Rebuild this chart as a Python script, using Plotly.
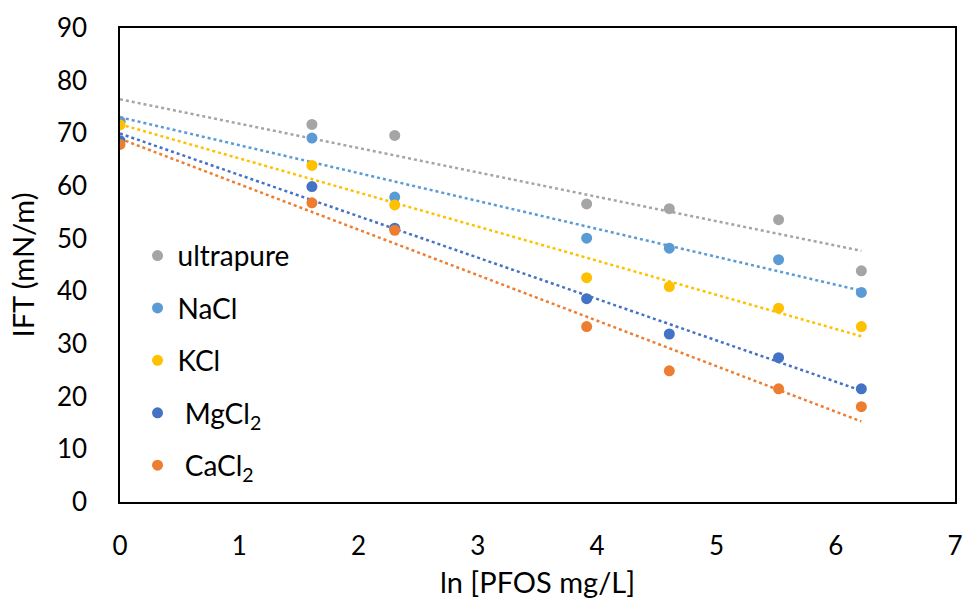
import numpy as np
import plotly.graph_objects as go

x_vals = [0.0, 1.609, 2.303, 3.912, 4.605, 5.521, 6.215]

series_names = ["ultrapure", "NaCl", "KCl", " MgCl<sub>2</sub>", " CaCl<sub>2</sub>"]
ultrapure = [72.3, 71.7, 69.6, 56.6, 55.7, 53.6, 43.9]
nacl = [72.2, 69.1, 57.9, 50.1, 48.2, 46.0, 39.8]
kcl = [71.6, 63.9, 56.4, 42.6, 40.9, 36.8, 33.3]
mgcl2 = [68.6, 59.9, 52.0, 38.6, 31.9, 27.4, 21.5]
cacl2 = [67.9, 56.8, 51.6, 33.3, 24.9, 21.5, 18.1]
colors = ["#A5A5A5", "#5B9BD5", "#FFC000", "#4472C4", "#ED7D31"]

x_ticks = [0, 1, 2, 3, 4, 5, 6, 7]
y_ticks = [0, 10, 20, 30, 40, 50, 60, 70, 80, 90]

FONT = "Lato"
fig = go.Figure()
all_series = [ultrapure, nacl, kcl, mgcl2, cacl2]
for i, (name, ys, c) in enumerate(zip(series_names, all_series, colors)):
    slope, intercept = np.polyfit(x_vals, ys, 1)
    xt = [min(x_vals), max(x_vals)]
    yt = [intercept + slope * v for v in xt]
    fig.add_trace(go.Scatter(x=xt, y=yt, mode="lines", showlegend=False,
                             line=dict(color=c, width=2.5, dash="dot"),
                             hoverinfo="skip", legendgroup=f"g{i}"))
for i, (name, ys, c) in enumerate(zip(series_names, all_series, colors)):
    fig.add_trace(go.Scatter(x=x_vals, y=ys, mode="markers", name=name,
                             marker=dict(color=c, size=11), legendgroup=f"g{i}"))

fig.update_layout(
    width=963, height=599,
    margin=dict(l=120, r=8, t=28, b=97),
    paper_bgcolor="white", plot_bgcolor="white",
    font=dict(family=FONT, size=26, color="#000000"),
    showlegend=True,
    legend=dict(x=0.021, y=0.572, xanchor="left", yanchor="top",
                bgcolor="rgba(0,0,0,0)", tracegroupgap=13,
                font=dict(family=FONT, size=28, color="#000000"),
                itemsizing="trace", itemwidth=30),
    xaxis=dict(range=[0, 7], tickvals=x_ticks, ticks="", showgrid=False,
               zeroline=False, showline=True, linecolor="#000000", linewidth=1.5,
               mirror=True, ticklabelstandoff=20, automargin=False,
               tickfont=dict(family=FONT, size=26),
               title=dict(text="ln [PFOS mg/L]", standoff=14,
                          font=dict(family=FONT, size=29))),
    yaxis=dict(range=[0, 90], tickvals=y_ticks, ticks="", showgrid=False,
               zeroline=False, showline=True, linecolor="#000000", linewidth=1.5,
               mirror=True, ticklabelstandoff=26, automargin=False,
               tickfont=dict(family=FONT, size=26),
               title=dict(text="IFT (mN/m)", standoff=14,
                          font=dict(family=FONT, size=29))),
)

fig.write_html("out.html")
